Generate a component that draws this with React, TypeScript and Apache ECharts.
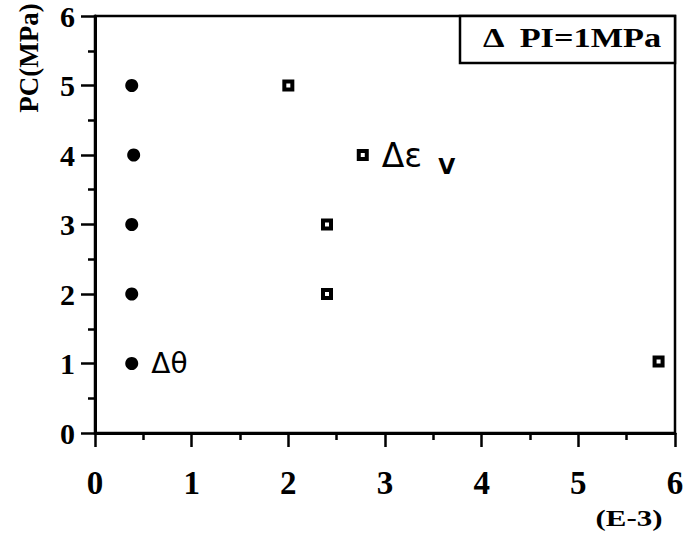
import React, { useEffect, useRef } from "react";
import * as echarts from "echarts";

// Confining pressure levels (MPa)
const pcLevels = [1, 2, 3, 4, 5];
// Δθ values (E-3) at each PC level
const thetaStrain = [0.38, 0.38, 0.38, 0.4, 0.38];
// Δεv values (E-3) and their PC levels
const volStrain = [5.83, 2.4, 2.4, 2.77, 2.0];
const volPc = [1.03, 2, 3, 4, 5];

const xMin = 0, xMax = 6, xStep = 1;
const yMin = 0, yMax = 6, yStep = 1;

const serif = "'Liberation Serif', 'Times New Roman', serif";
const sans = "'DejaVu Sans', sans-serif";

export default function App() {
  const ref = useRef<HTMLDivElement>(null);
  useEffect(() => {
    if (!ref.current) return;
    const chart = echarts.init(ref.current, undefined, { renderer: "svg" });

    const thetaData = pcLevels.map((p, i) => {
      const item: any = { value: [thetaStrain[i], p] };
      if (i === 0) {
        item.label = {
          show: true,
          position: "right",
          distance: 13,
          formatter: "Δθ",
          fontFamily: sans,
          fontSize: 28,
          color: "#000",
        };
      }
      return item;
    });

    const volData = volPc.map((p, i) => {
      const item: any = { value: [volStrain[i], p] };
      if (i === 3) {
        item.label = {
          show: true,
          position: "right",
          distance: 13,
          formatter: "{a|Δε}{b|V}",
          rich: {
            a: { fontFamily: sans, fontSize: 33, color: "#000" },
            b: {
              fontFamily: sans,
              fontSize: 22,
              fontWeight: "bold",
              color: "#000",
              padding: [22, 0, 0, 16],
            },
          },
        };
      }
      return item;
    });

    const axisCommon = {
      type: "value" as const,
      axisLine: { show: true, onZero: false, lineStyle: { color: "#000", width: 3 } },
      axisTick: { show: true, inside: false, length: 14, lineStyle: { color: "#000", width: 2.5 } },
      minorTick: { show: true, splitNumber: 2, length: 7, lineStyle: { color: "#000", width: 2.5 } },
      splitLine: { show: false },
      minorSplitLine: { show: false },
    };

    chart.setOption({
      animation: false,
      backgroundColor: "#fff",
      grid: {
        left: 95,
        right: 12,
        top: 16,
        bottom: 103,
        show: true,
        borderColor: "#000",
        borderWidth: 2.5,
        backgroundColor: "transparent",
      },
      xAxis: {
        ...axisCommon,
        min: xMin,
        max: xMax,
        interval: xStep,
        axisLabel: { margin: 33, fontFamily: serif, fontWeight: "bold", fontSize: 33, color: "#000" },
      },
      yAxis: {
        ...axisCommon,
        min: yMin,
        max: yMax,
        interval: yStep,
        axisLabel: {
          margin: 20,
          fontFamily: serif,
          fontWeight: "bold",
          fontSize: 30,
          lineHeight: 30,
          color: "#000",
        },
      },
      series: [
        {
          name: "Δθ",
          type: "scatter",
          symbol: "circle",
          symbolSize: 13,
          itemStyle: { color: "#000", opacity: 1 },
          data: thetaData,
        },
        {
          name: "Δεv",
          type: "scatter",
          symbol: "rect",
          symbolSize: 8,
          itemStyle: { color: "#fff", borderColor: "#000", borderWidth: 4, opacity: 1 },
          data: volData,
        },
      ],
      graphic: [
        {
          type: "text",
          x: 29,
          y: 58,
          rotation: Math.PI / 2,
          style: {
            text: "PC(MPa)",
            fontFamily: serif,
            fontWeight: "bold",
            fontSize: 27,
            fill: "#000",
            align: "center",
            verticalAlign: "middle",
          },
        },
        {
          type: "text",
          x: 629,
          y: 518,
          scaleX: 1.29,
          style: {
            text: "(E-3)",
            fontFamily: serif,
            fontWeight: "bold",
            fontSize: 24,
            fill: "#000",
            align: "center",
            verticalAlign: "middle",
          },
        },
        {
          type: "rect",
          shape: { x: 460, y: 16, width: 215, height: 47 },
          style: { fill: "#fff", stroke: "#000", lineWidth: 2.5 },
          z: 10,
        },
        {
          type: "text",
          x: 572,
          y: 38,
          z: 11,
          scaleX: 1.27,
          style: {
            text: "Δ  PI=1MPa",
            fontFamily: serif,
            fontWeight: "bold",
            fontSize: 27,
            fill: "#000",
            align: "center",
            verticalAlign: "middle",
          },
        },
      ],
    });
    return () => chart.dispose();
  }, []);
  return (
    <div
      ref={ref}
      style={{ position: "absolute", left: 0, top: 0, width: 687, height: 536 }}
    />
  );
}
